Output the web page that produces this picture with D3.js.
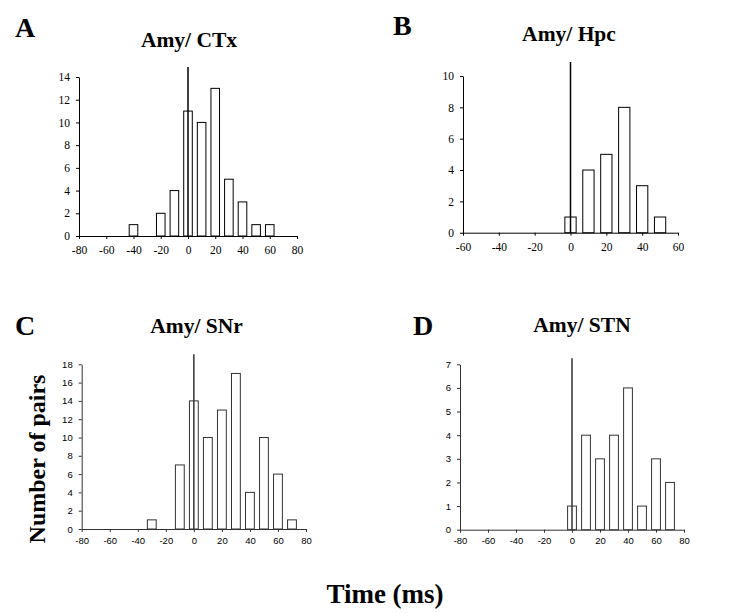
<!DOCTYPE html>
<html><head><meta charset="utf-8">
<script src="https://cdn.jsdelivr.net/npm/d3@7"></script>
<style>body{margin:0;background:#fff}svg{display:block}</style>
</head><body>
<svg id="chart" width="734" height="613"></svg>
<script>
// ---- data ----
const panelLetters = ["A", "B", "C", "D"];
const panelTitles = ["Amy/ CTx", "Amy/ Hpc", "Amy/ SNr", "Amy/ STN"];
const binsA = [-40, -30, -20, -10, 0, 10, 20, 30, 40, 50, 60];
const countsA = [1, 0, 2, 4, 11, 10, 13, 5, 3, 1, 1];
const binsB = [0, 10, 20, 30, 40, 50];
const countsB = [1, 4, 5, 8, 3, 1];
const binsC = [-30, -20, -10, 0, 10, 20, 30, 40, 50, 60, 70];
const countsC = [1, 0, 7, 14, 10, 13, 17, 4, 10, 6, 1];
const binsD = [0, 10, 20, 30, 40, 50, 60, 70];
const countsD = [1, 4, 3, 4, 6, 1, 3, 2];
const xTicksA = [-80, -60, -40, -20, 0, 20, 40, 60, 80];
const xTicksB = [-60, -40, -20, 0, 20, 40, 60];
const xTicksC = [-80, -60, -40, -20, 0, 20, 40, 60, 80];
const xTicksD = [-80, -60, -40, -20, 0, 20, 40, 60, 80];
const yTicksA = [0, 2, 4, 6, 8, 10, 12, 14];
const yTicksB = [0, 2, 4, 6, 8, 10];
const yTicksC = [0, 2, 4, 6, 8, 10, 12, 14, 16, 18];
const yTicksD = [0, 1, 2, 3, 4, 5, 6, 7];
const xLabel = "Time (ms)";
const yLabel = "Number of pairs";

// ---- layout ----
const serif = "'Liberation Serif', 'Times New Roman', serif";
const sans = "'Liberation Sans', Arial, sans-serif";
const panels = [
  {bins: binsA, counts: countsA, xt: xTicksA, yt: yTicksA, x0: 79, x1: 297, y0: 236, y1: 77,
   font: serif, fs: 11.5, pad: 7, stroke: "#000", lx: 15, ly: 37, tx: 189, ty: 47, lineTop: 10},
  {bins: binsB, counts: countsB, xt: xTicksB, yt: yTicksB, x0: 463, x1: 678, y0: 232.7, y1: 76,
   font: serif, fs: 11.5, pad: 7, stroke: "#000", lx: 393, ly: 35, tx: 569, ty: 41, lineTop: 14},
  {bins: binsC, counts: countsC, xt: xTicksC, yt: yTicksC, x0: 81.7, x1: 306, y0: 529, y1: 364.3,
   font: sans, fs: 9.5, pad: 5, stroke: "#333", lx: 15, ly: 335, tx: 196.5, ty: 333, lineTop: 10},
  {bins: binsD, counts: countsD, xt: xTicksD, yt: yTicksD, x0: 460, x1: 684, y0: 529.7, y1: 364.3,
   font: sans, fs: 9.5, pad: 5, stroke: "#333", lx: 413, ly: 335, tx: 582, ty: 332, lineTop: 6}
];

const svg = d3.select("#chart");
const fmt = d => String(d);

panels.forEach((p, i) => {
  const xDom = [p.xt[0], p.xt[p.xt.length - 1]];
  const yDom = [p.yt[0], p.yt[p.yt.length - 1]];
  const x = d3.scaleLinear().domain(xDom).range([p.x0, p.x1]);
  const y = d3.scaleLinear().domain(yDom).range([p.y0, p.y1]);
  const g = svg.append("g");

  // letter & title
  g.append("text").attr("x", p.lx).attr("y", p.ly).text(panelLetters[i])
    .attr("font-family", serif).attr("font-weight", "bold").attr("font-size", 28);
  g.append("text").attr("x", p.tx).attr("y", p.ty).attr("text-anchor", "middle").text(panelTitles[i])
    .attr("font-family", serif).attr("font-weight", "bold").attr("font-size", 21.5);

  // axes
  const xa = g.append("g").attr("transform", `translate(0,${p.y0})`)
    .call(d3.axisBottom(x).tickValues(p.xt).tickFormat(fmt).tickSize(3).tickPadding(p.pad).tickSizeOuter(0));
  const ya = g.append("g").attr("transform", `translate(${p.x0},0)`)
    .call(d3.axisLeft(y).tickValues(p.yt).tickFormat(fmt).tickSize(3).tickPadding(6).tickSizeOuter(0));
  [xa, ya].forEach(a => {
    a.select(".domain").attr("stroke", p.stroke).attr("stroke-width", 1);
    a.selectAll(".tick line").attr("stroke", p.stroke);
    a.selectAll(".tick text").attr("font-family", p.font).attr("font-size", p.fs).attr("fill", "#000");
  });

  // bars
  const binW = x(10) - x(0);
  const bw = binW * 0.63;
  g.selectAll("rect.bar").data(p.bins.map((b, j) => ({b, c: p.counts[j]})).filter(d => d.c > 0))
    .join("rect").attr("class", "bar")
    .attr("x", d => x(d.b) - bw / 2).attr("width", bw)
    .attr("y", d => y(d.c)).attr("height", d => y(0) - y(d.c))
    .attr("fill", "#fff").attr("stroke", p.stroke).attr("stroke-width", 1);

  // zero line
  g.append("line").attr("x1", x(0)).attr("x2", x(0))
    .attr("y1", y(0)).attr("y2", y(yDom[1]) - p.lineTop)
    .attr("stroke", p.stroke).attr("stroke-width", 1.5);
});

// shared labels
svg.append("text").attr("x", 385).attr("y", 603).attr("text-anchor", "middle").text(xLabel)
  .attr("font-family", serif).attr("font-weight", "bold").attr("font-size", 27);
svg.append("text").attr("transform", "translate(45,459) rotate(-90)").attr("text-anchor", "middle")
  .text(yLabel).attr("font-family", serif).attr("font-weight", "bold").attr("font-size", 24);
</script>
</body></html>
